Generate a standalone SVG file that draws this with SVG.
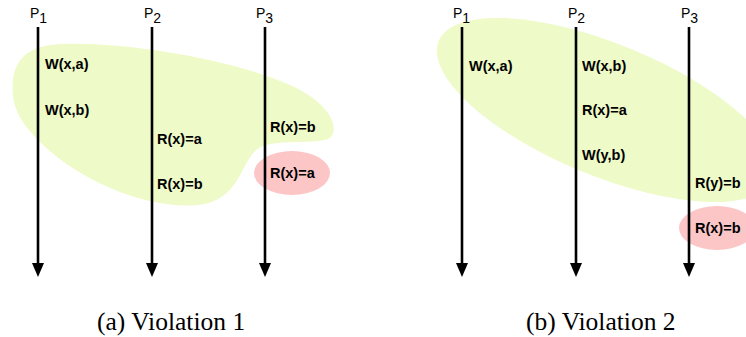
<svg xmlns="http://www.w3.org/2000/svg" width="746" height="337" viewBox="0 0 746 337">
<defs>
<marker id="ah" viewBox="0 0 14 12" refX="5" refY="6" markerWidth="14" markerHeight="12" markerUnits="userSpaceOnUse" orient="auto">
<path d="M0,0 L14,6 L0,12 Z" fill="#000"/>
</marker>
</defs>
<style>
.bg{fill:#fff}
.grn{fill:#EEFAC7}
.red{fill:#FCC6C6}
.ln{stroke:#000;stroke-width:2.6;fill:none}
.op{font-family:"Liberation Sans",Arial,sans-serif;font-weight:bold;font-size:14.5px;fill:#000}
.pl{font-family:"Liberation Sans",Arial,sans-serif;font-size:14px;fill:#000}
.cap{font-family:"Liberation Serif","Times New Roman",serif;font-size:25.5px;fill:#000}
</style>
<rect class="bg" x="0" y="0" width="746" height="337"/>
<g id="regions">
<path id="green-a" class="grn" d="M13,95 C10,62 25,46 60,44 C120,41 230,58 290,85 C328,102 340,126 331,137 C324,145 282,139 263,146 C240,154 244,200 198,205 C150,210 80,182 40,142 C22,124 14,110 13,95 Z"/>
<ellipse id="red-a" class="red" cx="292" cy="173" rx="38" ry="22"/>
<ellipse id="green-b" class="grn" cx="0" cy="0" rx="181" ry="66" transform="translate(606,110) rotate(22.4)"/>
<ellipse id="red-b" class="red" cx="717" cy="228" rx="38" ry="22"/>
</g>
<g id="connectors">
<line class="ln" x1="38" y1="27" x2="38" y2="268" marker-end="url(#ah)"/>
<line class="ln" x1="152" y1="27" x2="152" y2="268" marker-end="url(#ah)"/>
<line class="ln" x1="265" y1="27" x2="265" y2="268" marker-end="url(#ah)"/>
<line class="ln" x1="462" y1="27" x2="462" y2="268" marker-end="url(#ah)"/>
<line class="ln" x1="576" y1="27" x2="576" y2="268" marker-end="url(#ah)"/>
<line class="ln" x1="689" y1="27" x2="689" y2="268" marker-end="url(#ah)"/>
</g>
<g id="a-P1"><text class="pl" x="30" y="18">P<tspan dy="5">1</tspan></text></g>
<g id="a-P2"><text class="pl" x="144" y="18">P<tspan dy="5">2</tspan></text></g>
<g id="a-P3"><text class="pl" x="256" y="18">P<tspan dy="5">3</tspan></text></g>
<g id="a-ops">
<text class="op" x="45" y="69">W(x,a)</text>
<text class="op" x="45" y="115">W(x,b)</text>
<text class="op" x="157" y="144">R(x)=a</text>
<text class="op" x="157" y="189">R(x)=b</text>
<text class="op" x="270" y="132">R(x)=b</text>
<text class="op" x="270" y="178">R(x)=a</text>
</g>
<g id="b-P1"><text class="pl" x="453" y="18">P<tspan dy="5">1</tspan></text></g>
<g id="b-P2"><text class="pl" x="568" y="18">P<tspan dy="5">2</tspan></text></g>
<g id="b-P3"><text class="pl" x="681" y="18">P<tspan dy="5">3</tspan></text></g>
<g id="b-ops">
<text class="op" x="469" y="71">W(x,a)</text>
<text class="op" x="582" y="71">W(x,b)</text>
<text class="op" x="582" y="115">R(x)=a</text>
<text class="op" x="582" y="160">W(y,b)</text>
<text class="op" x="695" y="188">R(y)=b</text>
<text class="op" x="695" y="233">R(x)=b</text>
</g>
<g id="captions">
<text class="cap" x="97" y="330">(a) Violation 1</text>
<text class="cap" x="526" y="330">(b) Violation 2</text>
</g>
</svg>
